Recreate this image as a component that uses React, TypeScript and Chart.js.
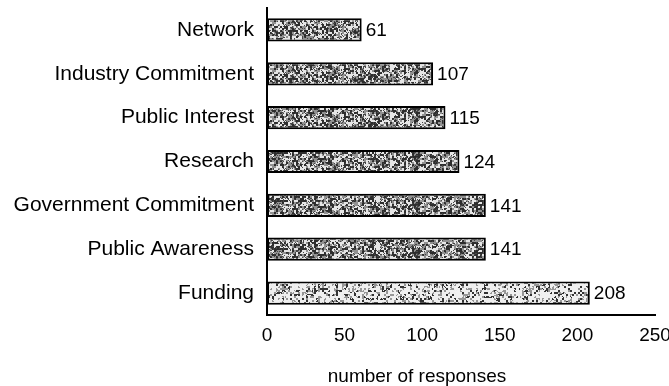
import React, { useEffect, useRef } from "react";
import { Chart, registerables } from "chart.js";

Chart.register(...registerables);

const categories = [
  "Network",
  "Industry Commitment",
  "Public Interest",
  "Research",
  "Government Commitment",
  "Public Awareness",
  "Funding",
];
const responses = [61, 107, 115, 124, 141, 141, 208];
const xMin = 0;
const xMax = 250;
const xStep = 50;
const axisTitle = "number of responses";

const FONT = '"Liberation Sans", Arial, Helvetica, sans-serif';

function makePattern(ctx: CanvasRenderingContext2D, seed: number, light: boolean) {
  const w = 420;
  const h = 48;
  const c = document.createElement("canvas");
  c.width = w;
  c.height = h;
  const g = c.getContext("2d")!;
  let s = seed;
  const rnd = () => {
    s = (s * 1103515245 + 12345) & 0x7fffffff;
    return s / 0x7fffffff;
  };
  const img = g.createImageData(w, h);
  const cw = w / 2;
  const ch = h / 2;
  const cells: number[] = [];
  for (let i = 0; i < cw * ch; i++) {
    const r = rnd();
    if (light) cells.push(r < 0.2 ? 50 : r < 0.42 ? 150 : 240);
    else cells.push(r < 0.3 ? 45 : r < 0.6 ? 145 : 230);
  }
  for (let y = 0; y < h; y++) {
    for (let x = 0; x < w; x++) {
      let v = cells[Math.floor(y / 2) * cw + Math.floor(x / 2)];
      const r = rnd();
      if (r < 0.15) v = light ? 235 : 70;
      const i = (y * w + x) * 4;
      img.data[i] = v;
      img.data[i + 1] = v;
      img.data[i + 2] = v;
      img.data[i + 3] = 255;
    }
  }
  g.putImageData(img, 0, 0);
  return ctx.createPattern(c, "repeat")!;
}

export default function App() {
  const ref = useRef<HTMLCanvasElement | null>(null);

  useEffect(() => {
    const canvas = ref.current!;
    const ctx = canvas.getContext("2d")!;
    const dark = makePattern(ctx, 67890, false);
    const light = makePattern(ctx, 12345, true);

    const valueLabels = {
      id: "valueLabels",
      afterDatasetsDraw(chart: any) {
        const c = chart.ctx;
        const meta = chart.getDatasetMeta(0);
        c.save();
        c.font = `19px ${FONT}`;
        c.fillStyle = "#000";
        c.textAlign = "left";
        c.textBaseline = "middle";
        meta.data.forEach((bar: any, i: number) => {
          c.fillText(String(responses[i]), bar.x + 4, bar.y + 1);
        });
        c.restore();
      },
    };

    const xTitle = {
      id: "xTitle",
      afterDraw(chart: any) {
        const c = chart.ctx;
        c.save();
        c.font = `19px ${FONT}`;
        c.fillStyle = "#000";
        c.textAlign = "center";
        c.textBaseline = "middle";
        c.fillText(axisTitle, 417, 377);
        c.restore();
      },
    };

    const chart = new Chart(canvas, {
      type: "bar",
      data: {
        labels: categories,
        datasets: [
          {
            data: responses,
            backgroundColor: responses.map((_, i) => (i === responses.length - 1 ? light : dark)),
            borderColor: "#000",
            borderWidth: 2,
            borderSkipped: false,
            categoryPercentage: 1,
            barPercentage: 0.53,
          },
        ],
      },
      options: {
        indexAxis: "y",
        animation: false,
        responsive: false,
        devicePixelRatio: 1,
        layout: { padding: { top: 8, right: 14, left: 0, bottom: 0 } },
        plugins: {
          legend: { display: false },
          tooltip: { enabled: false },
          title: { display: false },
        },
        scales: {
          x: {
            min: xMin,
            max: xMax,
            ticks: {
              stepSize: xStep,
              color: "#000",
              font: { family: FONT, size: 19 },
              padding: 1,
              maxRotation: 0,
            },
            grid: { display: false },
            border: { display: true, color: "#000", width: 2 },
            afterFit: (s: any) => {
              s.height = 71;
              s.paddingLeft = 0;
              s.paddingRight = 0;
            },
          },
          y: {
            ticks: {
              color: "#000",
              font: { family: FONT, size: 21 },
              padding: 5,
            },
            grid: { display: false },
            border: { display: true, color: "#000", width: 2 },
            afterFit: (s: any) => {
              s.width = 267;
              s.paddingTop = 0;
              s.paddingBottom = 0;
            },
          },
        },
      },
      plugins: [valueLabels, xTitle],
    } as any);

    return () => chart.destroy();
  }, []);

  return (
    <div style={{ position: "fixed", left: 0, top: 0, width: 669, height: 386, background: "#fff" }}>
      <canvas ref={ref} width={669} height={386} style={{ display: "block" }} />
    </div>
  );
}
